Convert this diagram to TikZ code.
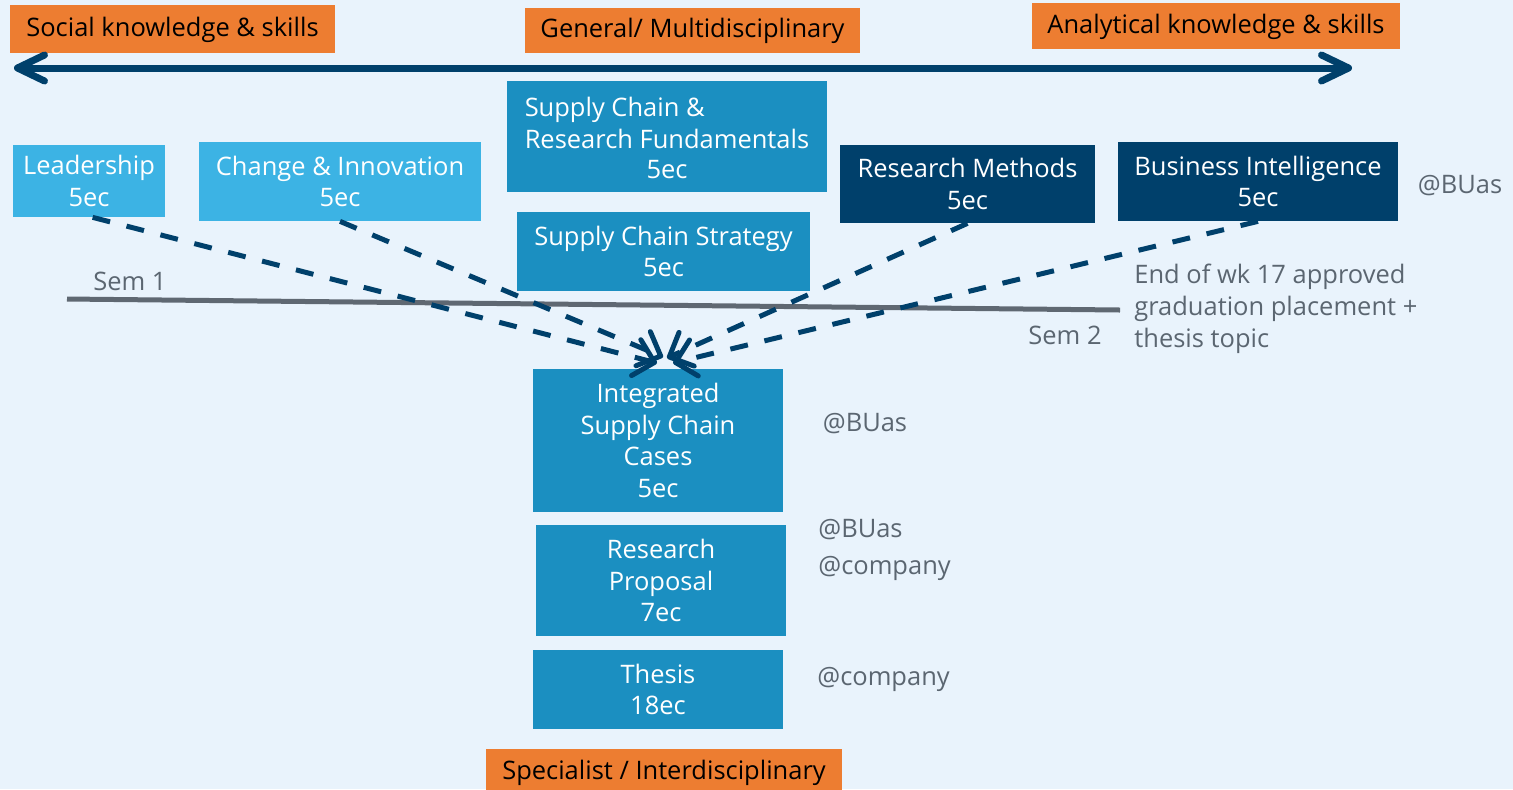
\documentclass[tikz,border=0pt]{standalone}
\usepackage{fontspec}
\setmainfont{Open Sans}
\usetikzlibrary{arrows.meta,backgrounds}
\definecolor{bgblue}{HTML}{E9F3FC}
\definecolor{orangebox}{HTML}{ED7D31}
\definecolor{lightbox}{HTML}{3CB3E4}
\definecolor{midbox}{HTML}{1B8FC1}
\definecolor{navy}{HTML}{00406B}
\definecolor{greytext}{HTML}{5B6671}
\definecolor{semgrey}{HTML}{5F6872}
\tikzset{
  every node/.style={font=\fontsize{14.5}{18.1}\selectfont, inner sep=0pt, align=center},
  tagbox/.style={fill=orangebox, text=black, text height=0.9em, text depth=0.1em},
  lbox/.style={fill=lightbox, text=white},
  mbox/.style={fill=midbox, text=white},
  nbox/.style={fill=navy, text=white},
  note/.style={text=greytext},
  dasharrow/.style={draw=navy, line width=1mm, dash pattern=on 3.6mm off 3.4mm,
     -{Straight Barb[round,length=3.8mm,width=7.4mm]}},
}
\begin{document}
\begin{tikzpicture}[x=0.02cm,y=-0.02cm]
\fill[bgblue] (0,0) rectangle (1513,789);
\useasboundingbox (0,0) rectangle (1513,789);
\clip (0,0) rectangle (1513,789);
% orange tags
\node[tagbox, minimum width=6.5cm, minimum height=0.96cm] (soc) at (172.5,29) {Social knowledge \& skills};
\node[tagbox, minimum width=6.7cm, minimum height=0.9cm] (gen) at (692.5,30.5) {General/ Multidisciplinary};
\node[tagbox, minimum width=7.36cm, minimum height=0.92cm] (ana) at (1216,26) {Analytical knowledge \& skills};
\node[tagbox, minimum width=7.12cm, minimum height=0.92cm] (spec) at (664,772) {Specialist / Interdisciplinary};
% top arrow
\coordinate (aleft) at (14,68);
\coordinate (aright) at (1352,68);
\draw[navy, line width=1.4mm, {Straight Barb[round,length=5.4mm,width=5.2mm]}-{Straight Barb[round,length=5.4mm,width=5.2mm]}] (aleft) -- (aright);
% course boxes
\node[lbox, minimum width=3.04cm, minimum height=1.44cm] (lead) at (89,181) {Leadership\\5ec};
\node[lbox, minimum width=5.64cm, minimum height=1.58cm] (chg) at (340,181.5) {Change \& Innovation\\5ec};
\node[mbox, minimum width=6.4cm, minimum height=2.22cm] (scrf) at (667,136.5) {\begin{tabular}{@{}l@{}}Supply Chain \&\\Research Fundamentals\end{tabular}\\5ec};
\node[nbox, minimum width=5.1cm, minimum height=1.56cm] (rm) at (967.5,184) {Research Methods\\5ec};
\node[nbox, minimum width=5.6cm, minimum height=1.58cm] (bi) at (1258,181.5) {Business Intelligence\\5ec};
\node[mbox, minimum width=5.86cm, minimum height=1.58cm] (scs) at (663.5,251.5) {Supply Chain Strategy\\5ec};
\node[mbox, minimum width=5cm, minimum height=2.86cm] (iscc) at (658,440.5) {Integrated\\Supply Chain\\Cases\\5ec};
\node[mbox, minimum width=5cm, minimum height=2.22cm] (rp) at (661,580.5) {Research\\Proposal\\7ec};
\node[mbox, minimum width=5cm, minimum height=1.58cm] (th) at (658,689.5) {Thesis\\18ec};
% background connectors
\begin{scope}[on background layer]
\draw[navy, line width=2mm] (lead.center) -- (bi.center);
\draw[orangebox, line width=2.4mm] ([xshift=-0.02cm]scrf.south) -- ([xshift=-0.02cm]scrf.south |- th.north);
\end{scope}
% semester line
\coordinate (semA) at (67,299);
\coordinate (semB) at (1120,310);
\draw[semgrey, line width=1mm] (semA) -- (semB);
% notes
\node[note] (sem1) at (130,281) {Sem 1};
\node[note] (sem2) at (1065,335) {Sem 2};
\node[note, anchor=west, align=left] (wk17) at (1134,309) {End of wk 17 approved\\graduation placement +\\thesis topic};
\node[note] (at1) at (1460,186) {@BUas};
\node[note] (at2) at (865,424) {@BUas};
\node[note, anchor=west] (at3) at (818,530) {@BUas};
\node[note, anchor=west] (at4) at (818,568) {@company};
\node[note, anchor=west] (at5) at (817,679) {@company};
% dashed arrows
\coordinate (t1) at (657,363);
\coordinate (t2) at (663,357);
\coordinate (t3) at (667,358);
\coordinate (t4) at (673,363);
\draw[dasharrow] ([xshift=1.6cm]lead.south west) -- (t1);
\draw[dasharrow] (chg.south) -- (t2);
\draw[dasharrow] (rm.south) -- (t3);
\draw[dasharrow] (bi.south) -- (t4);
\end{tikzpicture}
\end{document}
